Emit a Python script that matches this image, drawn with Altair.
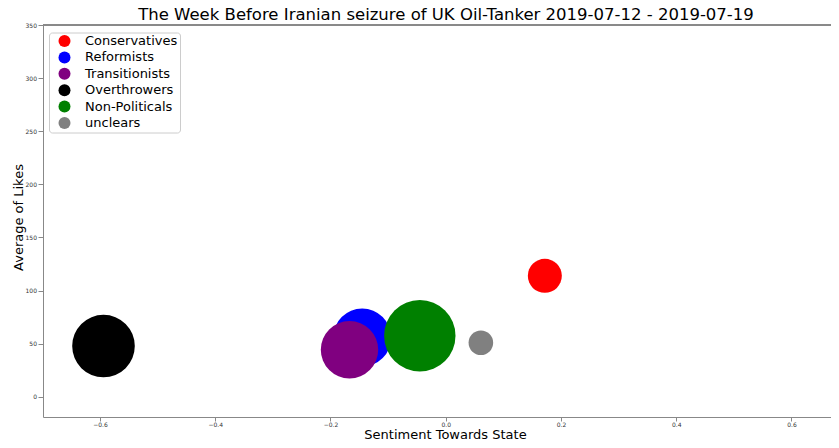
import altair as alt
import pandas as pd

groups = ["Conservatives", "Reformists", "Transitionists", "Overthrowers", "Non-Politicals", "unclears"]
colors = ["#ff0000", "#0000ff", "#800080", "#000000", "#008000", "#808080"]
sentiment = [0.172, -0.145, -0.167, -0.594, -0.045, 0.061]
avg_likes = [113.8, 55.7, 44.2, 47.7, 57.4, 50.8]
bubble = [1156, 3364, 3295, 3919, 5098, 605]

x_ticks = [-0.6, -0.4, -0.2, 0.0, 0.2, 0.4, 0.6]
y_ticks = [0, 50, 100, 150, 200, 250, 300, 350]

df = pd.DataFrame({"group": groups, "sentiment": sentiment, "likes": avg_likes, "bubble": bubble})

FONT = "DejaVu Sans"
SPINE = "#888888"
W, H = 788, 392

xscale = alt.Scale(domain=[-0.699, 0.6687], nice=False, zero=False)
yscale = alt.Scale(domain=[-19.1, 350], nice=False, zero=False)

points = alt.Chart(df).mark_circle(opacity=1).encode(
    x=alt.X("sentiment:Q", scale=xscale,
            axis=alt.Axis(values=x_ticks, format=".1f", title="Sentiment Towards State",
                          grid=False, labelPadding=0.5, tickSize=4,
                          titleX=402, titleY=21, titleBaseline="alphabetic",
                          titleAlign="center", titleFontSize=13)),
    y=alt.Y("likes:Q", scale=yscale,
            axis=alt.Axis(values=y_ticks, format="d", title="Average of Likes",
                          grid=False, labelPadding=1.5, tickSize=5,
                          titleX=-21, titleY=192, titleAngle=270, titleBaseline="alphabetic",
                          titleAlign="center", titleFontSize=13)),
    color=alt.Color("group:N", scale=alt.Scale(domain=groups, range=colors),
                    legend=alt.Legend(title=None, orient="none", legendX=6, legendY=7.5)),
    size=alt.Size("bubble:Q", scale=alt.Scale(type="linear", domain=[0, 6000], range=[0, 6000]), legend=None),
)

top_spine = alt.Chart(df).mark_rule(color=SPINE, strokeWidth=1).encode(
    y=alt.datum(350, scale=yscale)
)

chart = alt.layer(points, top_spine).properties(
    width=W, height=H,
    autosize=alt.AutoSizeParams(type="none"),
    padding={"left": 35, "top": 17, "right": 0, "bottom": 23},
    title=alt.Title("The Week Before Iranian seizure of UK Oil-Tanker  2019-07-12 - 2019-07-19",
                    fontSize=16.5, font=FONT, fontWeight="normal", anchor="middle",
                    offset=-1, dx=9, color="black"),
).configure_view(stroke=None).configure_axis(
    labelFont=FONT, labelFontSize=6, labelColor="#333333",
    tickColor=SPINE, domainColor=SPINE,
    titleFont=FONT, titleFontWeight="normal", titleColor="black",
).configure_legend(
    padding=2, strokeColor="#cccccc", cornerRadius=3, fillColor="white",
    symbolSize=144, symbolType="circle", symbolStrokeWidth=0,
    labelFont=FONT, labelFontSize=13, labelColor="black",
    rowPadding=2.4, symbolOffset=7, labelOffset=14,
)

chart.save("out.html", embed_options={"renderer": "svg", "actions": False})
